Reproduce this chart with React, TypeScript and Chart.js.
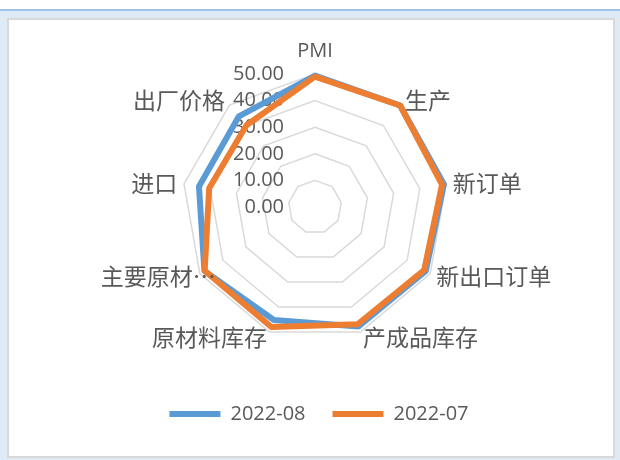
import React, { useEffect, useRef } from "react";
import { Chart, registerables } from "chart.js";

Chart.register(...registerables);

// ---- data ----
const categories = [
  "PMI",
  "生产",
  "新订单",
  "新出口订单",
  "产成品库存",
  "原材料库存",
  "主要原材料购进价格",
  "进口",
  "出厂价格",
];
const seriesAugLabel = "2022-08";
const seriesJulLabel = "2022-07";
const seriesAug = [49.4, 49.8, 49.2, 48.1, 47.8, 45.2, 48.0, 44.3, 44.5];
const seriesJul = [49.0, 49.8, 48.5, 47.4, 46.9, 48.0, 47.9, 40.4, 40.1];
const tickValues = [0, 10, 20, 30, 40, 50];

const TEXT = "#595959";
const LATIN = "'Open Sans', 'Noto Sans CJK SC', sans-serif";
const CJK = "'Noto Sans CJK SC', 'Open Sans', sans-serif";

const isTruncated = (s: string) => s.length > 5;
const shortLabel = (s: string) => (isTruncated(s) ? s.slice(0, 4) + "…" : s);

const excelLabels = {
  id: "excelLabels",
  // tick labels under the series lines
  beforeDatasetsDraw(chart: any) {
    const scale = chart.scales.r;
    const ctx = chart.ctx;
    ctx.save();
    ctx.fillStyle = TEXT;
    ctx.font = `20px ${LATIN}`;
    ctx.textAlign = "right";
    ctx.textBaseline = "middle";
    tickValues.forEach((v) => {
      const d = scale.getDistanceFromCenterForValue(v);
      ctx.fillText(v.toFixed(2), scale.xCenter - 31, scale.yCenter - d);
    });
    ctx.restore();
  },
  // category labels above the series lines
  afterDatasetsDraw(chart: any) {
    const scale = chart.scales.r;
    const ctx = chart.ctx;
    ctx.save();
    ctx.fillStyle = TEXT;
    (chart.data.labels as string[]).forEach((lab, i) => {
      const p = scale.getPointPosition(i, scale.drawingArea);
      const th = p.angle + Math.PI / 2;
      const s = Math.sin(th);
      const c = Math.cos(th);
      const text = shortLabel(lab);
      const isCjk = /[^\x00-\x7f]/.test(text);
      ctx.font = isCjk ? `23px ${CJK}` : `20px ${LATIN}`;
      ctx.textBaseline = "middle";
      if (Math.abs(s) < 0.1) {
        ctx.textAlign = "center";
        ctx.fillText(text, p.x, c > 0 ? p.y - 23 : p.y + 23);
      } else {
        ctx.textAlign = s > 0 ? "left" : "right";
        const extra = isTruncated(lab) ? (s > 0 ? -22 : 22) : 0;
        ctx.fillText(text, p.x + 7 * s + extra, p.y - 6 * c);
      }
    });
    ctx.restore();
  },
};

export default function App() {
  const ref = useRef<HTMLCanvasElement>(null);

  useEffect(() => {
    if (!ref.current) return;
    Chart.defaults.font.family = LATIN;
    const chart = new Chart(ref.current, {
      type: "radar",
      data: {
        labels: categories,
        datasets: [
          {
            label: seriesAugLabel,
            data: seriesAug,
            borderColor: "#5B9BD5",
            backgroundColor: "#5B9BD5",
            borderWidth: 6,
            borderJoinStyle: "round",
            borderCapStyle: "round",
            pointRadius: 0,
            pointHoverRadius: 0,
            fill: false,
            order: 1,
          },
          {
            label: seriesJulLabel,
            data: seriesJul,
            borderColor: "#ED7D31",
            backgroundColor: "#ED7D31",
            borderWidth: 6,
            borderJoinStyle: "round",
            borderCapStyle: "round",
            pointRadius: 0,
            pointHoverRadius: 0,
            fill: false,
            order: 0,
          },
        ],
      },
      options: {
        animation: false,
        responsive: false,
        devicePixelRatio: 1,
        layout: { padding: { left: 18, right: 0, top: 0, bottom: 26 } },
        scales: {
          r: {
            min: 0,
            max: 50,
            ticks: { stepSize: 10, display: false },
            grid: { color: "#D9D9D9", lineWidth: 1.5 },
            angleLines: { display: false },
            pointLabels: { display: false },
            afterFit: (scale: any) => {
              scale.xCenter = 315;
              scale.yCenter = 207;
              scale.drawingArea = 133;
            },
          },
        },
        plugins: {
          tooltip: { enabled: false },
          legend: {
            position: "bottom",
            labels: {
              usePointStyle: true,
              pointStyle: "line",
              pointStyleWidth: 51,
              padding: 27,
              color: TEXT,
              font: { size: 20, family: LATIN },
              sort: (a: any, b: any) => a.datasetIndex - b.datasetIndex,
            },
          },
        },
      } as any,
      plugins: [excelLabels],
    });
    return () => chart.destroy();
  }, []);

  return (
    <div style={{ position: "absolute", left: 0, top: 0, width: 620, height: 460, background: "#ffffff", overflow: "hidden" }}>
      <div style={{ position: "absolute", left: 0, top: 9, width: 620, height: 2, background: "#9DC3E6" }} />
      <div style={{ position: "absolute", left: 0, top: 11, width: 620, height: 449, background: "#DEEBF7" }} />
      <div
        style={{
          position: "absolute",
          left: 7,
          top: 18,
          width: 604,
          height: 436,
          background: "#ffffff",
          border: "2px solid #D9D9D9",
        }}
      />
      <canvas ref={ref} width={620} height={460} style={{ position: "absolute", left: 0, top: 0, width: 620, height: 460 }} />
    </div>
  );
}
